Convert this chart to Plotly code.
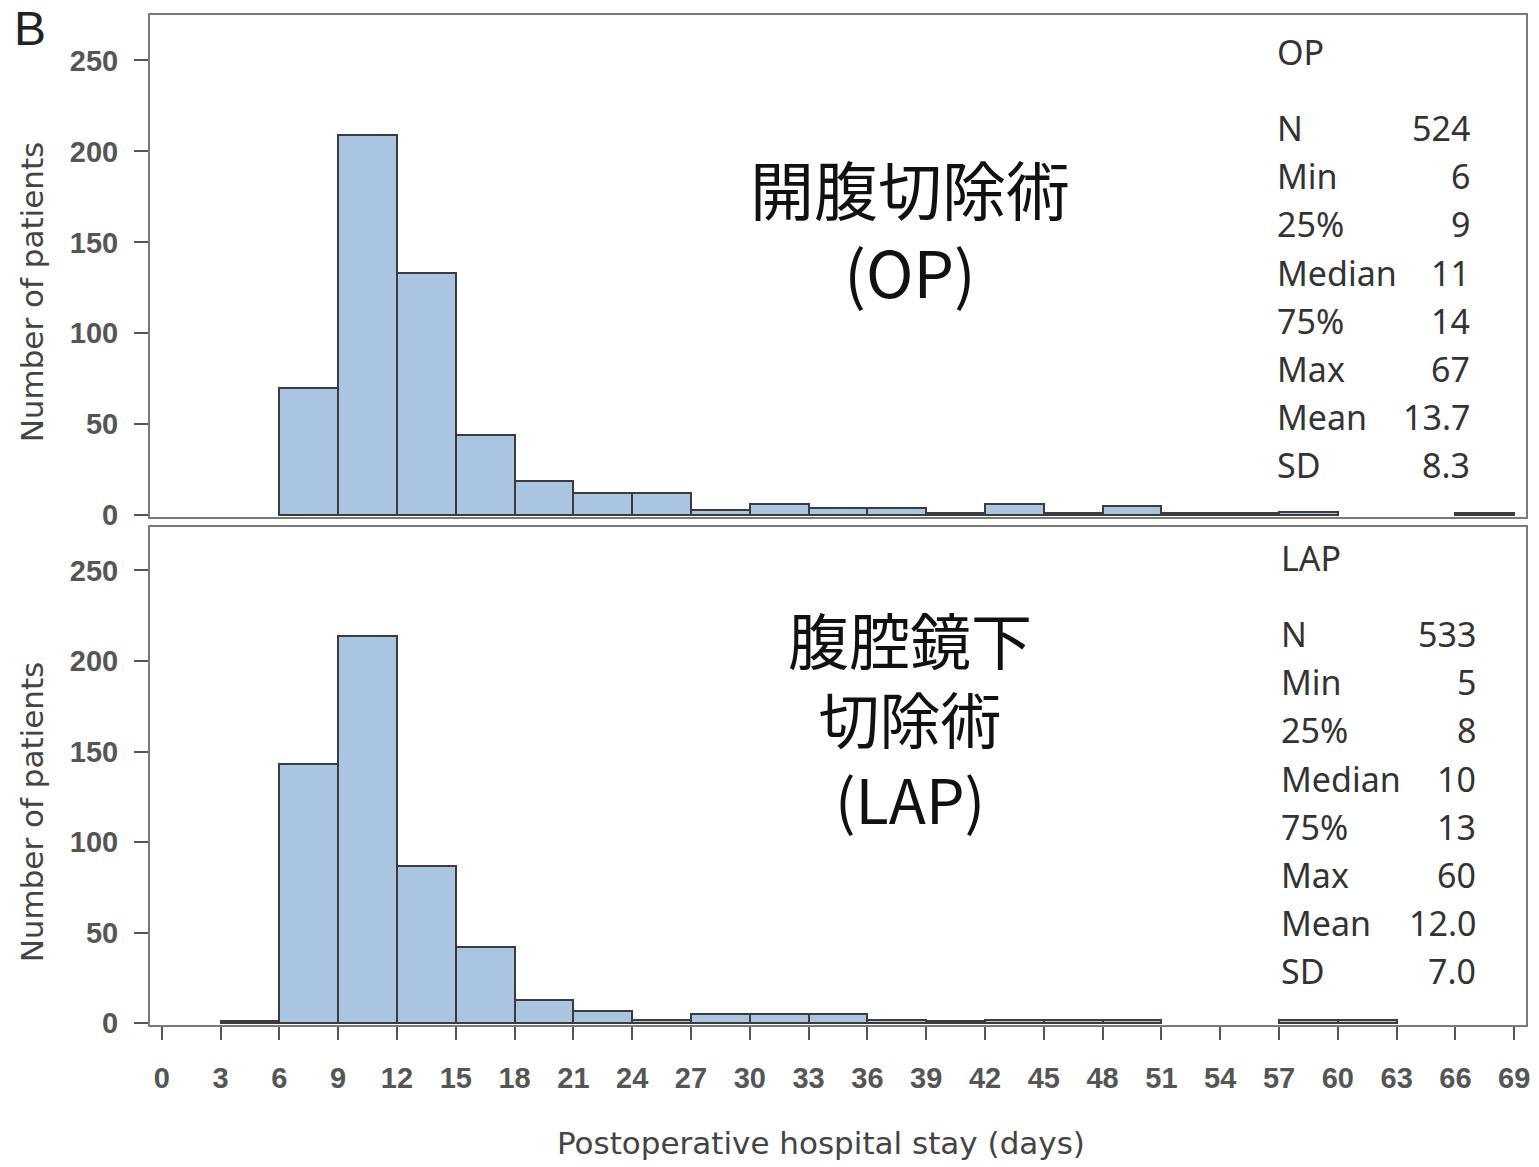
import plotly.graph_objects as go

# ---- data ----
bin_starts = [3, 6, 9, 12, 15, 18, 21, 24, 27, 30, 33, 36, 39, 42, 45, 48, 51, 54, 57, 60, 63, 66]
op_counts  = [0, 70, 209, 133, 44, 19, 12, 12, 3, 6, 4, 4, 1, 6, 1, 5, 1, 1, 2, 0, 0, 1]
lap_counts = [1, 143, 214, 87, 42, 13, 7, 2, 5, 5, 5, 2, 1, 2, 2, 2, 0, 0, 2, 2, 0, 0]
bin_width = 3

x_ticks = list(range(0, 70, 3))
y_ticks = [0, 50, 100, 150, 200, 250]

op_stats_labels = ["N", "Min", "25%", "Median", "75%", "Max", "Mean", "SD"]
op_stats_values = ["524", "6", "9", "11", "14", "67", "13.7", "8.3"]
lap_stats_values = ["533", "5", "8", "10", "13", "60", "12.0", "7.0"]

op_title_lines = ["開腹切除術", "(OP)"]
lap_title_lines = ["腹腔鏡下", "切除術", "(LAP)"]

# ---- layout helpers ----
W, H = 1539, 1167
ML, MR, MT, MB = 150, 9, 15, 142
PW = W - ML - MR
PH = H - MT - MB


def px(x):
    return (x - ML) / PW


def py(y):
    return (H - MB - y) / PH


bar_fill = "#a9c5e2"
bar_line = "#3c3c3c"


def nonzero(starts, counts):
    xs = [s + bin_width / 2 for s, c in zip(starts, counts) if c > 0]
    ys = [c for c in counts if c > 0]
    return xs, ys


fig = go.Figure()
ox, oy = nonzero(bin_starts, op_counts)
lx, ly = nonzero(bin_starts, lap_counts)
fig.add_trace(go.Bar(x=ox, y=oy, width=bin_width, marker=dict(color=bar_fill, line=dict(color=bar_line, width=2)),
                     xaxis="x", yaxis="y", showlegend=False))
fig.add_trace(go.Bar(x=lx, y=ly, width=bin_width, marker=dict(color=bar_fill, line=dict(color=bar_line, width=2)),
                     xaxis="x2", yaxis="y2", showlegend=False))

tickfont = dict(family="Liberation Sans Narrow, Liberation Sans, sans-serif", size=29, color="#555555", weight="bold")
frame = dict(showline=True, mirror=True, linecolor="#7a7a7a", linewidth=2, showgrid=False, zeroline=False)

top_dom = [py(517), 1.0]
bot_dom = [0.0, py(527)]

fig.update_layout(
    width=W, height=H,
    margin=dict(l=ML, r=MR, t=MT, b=MB),
    paper_bgcolor="white", plot_bgcolor="white",
    bargap=0,
    xaxis=dict(domain=[0, 1], anchor="y", range=[-0.6, 69.6], showticklabels=False, ticks="", **frame),
    yaxis=dict(domain=top_dom, anchor="x", range=[-1, 275], tickvals=y_ticks, ticks="outside", ticklen=14,
               tickcolor="#555555", tickwidth=2, tickfont=tickfont, ticklabelstandoff=10, **frame),
    xaxis2=dict(domain=[0, 1], anchor="y2", range=[-0.6, 69.6], tickvals=x_ticks, ticks="outside", ticklen=13,
                tickcolor="#555555", tickwidth=2, tickfont=tickfont, ticklabelstandoff=13, **frame),
    yaxis2=dict(domain=bot_dom, anchor="x2", range=[-1, 274], tickvals=y_ticks, ticks="outside", ticklen=14,
                tickcolor="#555555", tickwidth=2, tickfont=tickfont, ticklabelstandoff=10, **frame),
)

ann = []
title_font = dict(family="DejaVu Sans, sans-serif", size=31, color="#444444")
for yc in [292, 812]:
    ann.append(dict(text="Number of patients", x=px(32), y=py(yc), xref="paper", yref="paper",
                    textangle=-90, showarrow=False, font=title_font, xanchor="center", yanchor="middle"))
ann.append(dict(text="Postoperative hospital stay (days)", x=px(823), y=py(1143), xref="paper", yref="paper",
                showarrow=False, font=title_font, xanchor="center", yanchor="middle"))

ann.append(dict(text="B", x=px(12), y=py(28), xref="paper", yref="paper", showarrow=False,
                font=dict(family="Liberation Sans, sans-serif", size=48, color="#222222"),
                xanchor="left", yanchor="middle"))

ann.append(dict(text="<br>".join(op_title_lines), x=px(912), y=py(229), xref="paper", yref="paper",
                showarrow=False, align="center", xanchor="center", yanchor="middle",
                font=dict(family="Noto Sans CJK JP, sans-serif", size=64, color="#111111")))
ann.append(dict(text="<br>".join(lap_title_lines), x=px(912), y=py(718), xref="paper", yref="paper",
                showarrow=False, align="center", xanchor="center", yanchor="middle",
                font=dict(family="Noto Sans CJK JP, sans-serif", size=61, color="#111111")))

st_font = dict(family="Noto Sans, sans-serif", size=34, color="#333333")
for name, vals, lx0, rx, y0 in [("OP", op_stats_values, 1278, 1476, 52), ("LAP", lap_stats_values, 1282, 1482, 558)]:
    ann.append(dict(text=name, x=px(lx0), y=py(y0), xref="paper", yref="paper", showarrow=False,
                    font=st_font, xanchor="left", yanchor="middle"))
    for i, (lab, v) in enumerate(zip(op_stats_labels, vals)):
        yy = y0 + 76 + 48.2 * i
        ann.append(dict(text=lab, x=px(lx0), y=py(yy), xref="paper", yref="paper", showarrow=False,
                        font=st_font, xanchor="left", yanchor="middle"))
        ann.append(dict(text=v, x=px(rx), y=py(yy), xref="paper", yref="paper", showarrow=False,
                        font=st_font, xanchor="right", yanchor="middle"))

fig.update_layout(annotations=ann)
fig.write_html("out.html")
